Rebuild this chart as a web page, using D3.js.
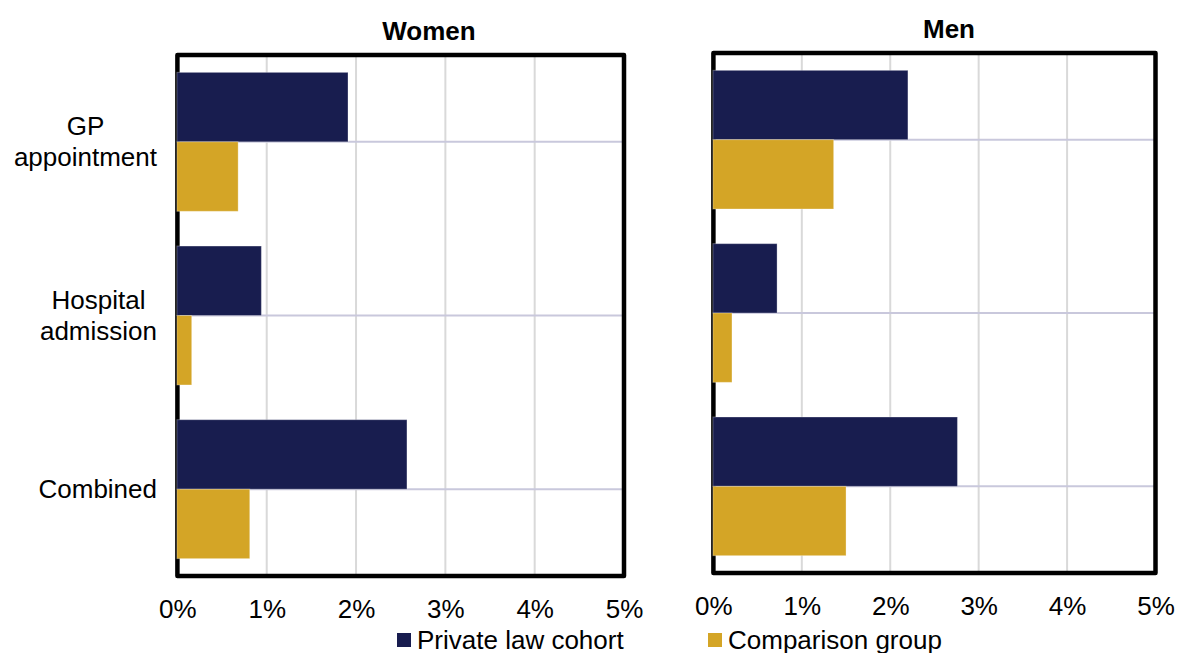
<!DOCTYPE html>
<html>
<head>
<meta charset="utf-8">
<script src="https://cdn.jsdelivr.net/npm/d3@7"></script>
<style>
  html, body { margin: 0; padding: 0; background: #fff; }
  svg { display: block; }
  text { font-family: "Liberation Sans", Arial, sans-serif; fill: #000; }
</style>
</head>
<body>
<svg id="chart" width="1178" height="653"></svg>
<script>
// ---- data ----
const categories = [["GP", "appointment"], ["Hospital", "admission"], ["Combined"]];
const categoryKeys = ["GP appointment", "Hospital admission", "Combined"];
const seriesNames = ["Private law cohort", "Comparison group"];
const womenCohort = [1.91, 0.94, 2.57];
const womenComparison = [0.68, 0.16, 0.81];
const menCohort = [2.20, 0.72, 2.76];
const menComparison = [1.36, 0.21, 1.50];
const xTicks = [0, 1, 2, 3, 4, 5];
const panelTitles = ["Women", "Men"];

const colors = ["#181d4f", "#d4a526"];
const FS = 26;

const svg = d3.select("#chart");

const panels = [
  { title: panelTitles[0], cohort: womenCohort, comparison: womenComparison,
    x0: 177.4, x1: 624, y0: 55, y1: 576, titleX: 429, titleY: 40 },
  { title: panelTitles[1], cohort: menCohort, comparison: menComparison,
    x0: 713.4, x1: 1155.5, y0: 53, y1: 573, titleX: 949, titleY: 38 }
];

panels.forEach((p, pi) => {
  const g = svg.append("g");
  const x = d3.scaleLinear().domain([0, 5]).range([p.x0, p.x1]);
  const y = d3.scaleBand().domain(categoryKeys).range([p.y0, p.y1])
    .paddingInner(0.2).paddingOuter(0.1);
  const sub = d3.scaleBand().domain(seriesNames).range([0, y.bandwidth()]);

  // vertical gridlines
  g.selectAll("line.vgrid").data(xTicks.slice(1, -1)).join("line")
    .attr("x1", d => x(d)).attr("x2", d => x(d))
    .attr("y1", p.y0).attr("y2", p.y1)
    .attr("stroke", "#d9d9d9").attr("stroke-width", 2);

  // horizontal gridlines at category centres
  const step = (p.y1 - p.y0) / categoryKeys.length;
  g.selectAll("line.hgrid").data(categoryKeys).join("line")
    .attr("x1", p.x0).attr("x2", p.x1)
    .attr("y1", (d, i) => p.y0 + step * (i + 0.5))
    .attr("y2", (d, i) => p.y0 + step * (i + 0.5))
    .attr("stroke", "#c9c8dc").attr("stroke-width", 2);

  // frame
  g.append("rect")
    .attr("x", p.x0).attr("y", p.y0)
    .attr("width", p.x1 - p.x0).attr("height", p.y1 - p.y0)
    .attr("fill", "none").attr("stroke", "#000").attr("stroke-width", 4.5)
    .attr("stroke-linejoin", "round");

  // bars
  const rows = categoryKeys.map((k, i) => ({ key: k, vals: [p.cohort[i], p.comparison[i]] }));
  rows.forEach(r => {
    r.vals.forEach((v, si) => {
      g.append("rect")
        .attr("x", x(0) - 0.5)
        .attr("y", y(r.key) + sub(seriesNames[si]))
        .attr("width", x(v) - x(0) + 0.5)
        .attr("height", sub.bandwidth())
        .attr("fill", colors[si])
        .attr("stroke", "#ffffff").attr("stroke-opacity", 0.3).attr("stroke-width", 1);
    });
  });

  // x axis labels
  const axis = d3.axisBottom(x).tickValues(xTicks).tickFormat(d => d + "%").tickSize(0).tickPadding(0);
  const ag = g.append("g").attr("transform", `translate(0,${p.y1 + 23})`).call(axis);
  ag.select(".domain").remove();
  ag.selectAll("text").attr("font-size", FS).attr("fill", "#000")
    .attr("font-family", '"Liberation Sans", Arial, sans-serif').attr("dy", "0.72em");

  // title
  g.append("text").attr("x", p.titleX).attr("y", p.titleY)
    .attr("text-anchor", "middle").attr("font-size", FS).attr("font-weight", "bold")
    .text(p.title);

  // category labels only on left panel (block right-aligned, lines centred)
  if (pi === 0) {
    const rightEdge = 157;
    categories.forEach((lines, i) => {
      const cy = y(categoryKeys[i]) + y.bandwidth() / 2;
      const lh = 31;
      const t = g.append("text").attr("text-anchor", "middle").attr("font-size", FS);
      const spans = lines.map((ln, li) => t.append("tspan")
          .attr("y", cy + (li - (lines.length - 1) / 2) * lh)
          .attr("dy", "0.35em").text(ln));
      const maxW = d3.max(spans, s => s.node().getComputedTextLength());
      spans.forEach(s => s.attr("x", rightEdge - maxW / 2));
    });
  }
});

// legend
const legendItems = [
  { name: seriesNames[0], color: colors[0], x: 397 },
  { name: seriesNames[1], color: colors[1], x: 708 }
];
legendItems.forEach(it => {
  svg.append("rect").attr("x", it.x).attr("y", 633).attr("width", 14).attr("height", 14).attr("fill", it.color);
  svg.append("text").attr("x", it.x + 20).attr("y", 649).attr("font-size", FS).text(it.name);
});
</script>
</body>
</html>
